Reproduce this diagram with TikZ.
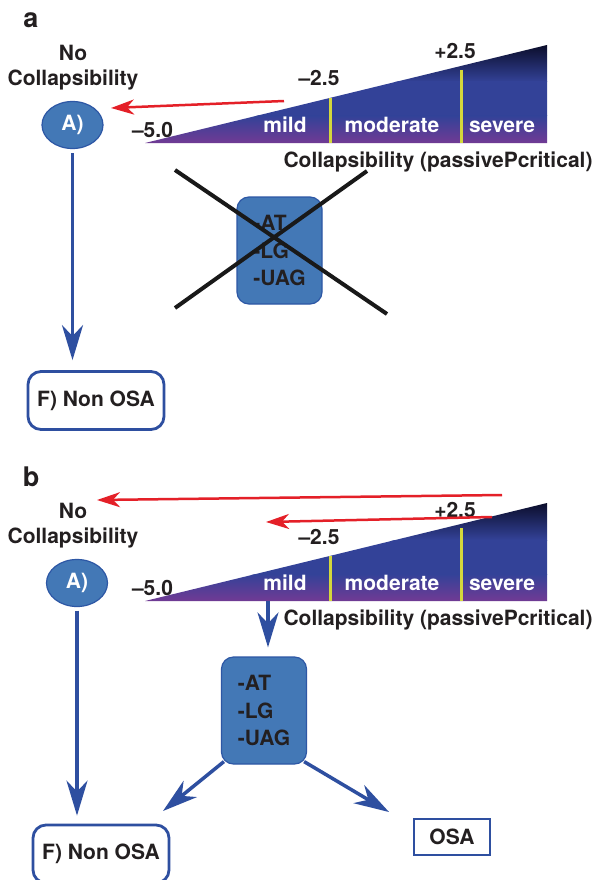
\documentclass[tikz,border=0pt]{standalone}
\usepackage{fontspec}
\setmainfont{TeX Gyre Heros}
\usetikzlibrary{shapes.geometric,arrows.meta,calc}
\definecolor{txt}{RGB}{35,31,32}
\definecolor{arrowblue}{RGB}{46,79,160}
\definecolor{boxfill}{RGB}{67,120,182}
\definecolor{boxborder}{RGB}{45,87,165}
\definecolor{redA}{RGB}{228,32,40}
\definecolor{triN}{RGB}{10,12,40}
\definecolor{triB}{RGB}{51,66,152}
\definecolor{triP}{RGB}{115,58,148}
\definecolor{yel}{RGB}{212,216,60}
\tikzset{
  lbl/.style={inner sep=0pt, font=\fontsize{21}{25}\selectfont\bfseries, text=txt},
  wlbl/.style={lbl, text=white, anchor=base},
  blbl/.style={lbl, anchor=base},
  panel/.style={inner sep=0pt, font=\fontsize{27}{30}\selectfont\bfseries, text=txt, anchor=base},
  ellnode/.style={lbl, ellipse, fill=boxfill, draw=boxborder, line width=1.2pt, minimum width=61pt, minimum height=47pt, text=white},
  fbox/.style={lbl, rectangle, rounded corners=13pt, draw=arrowblue, line width=2.8pt, fill=white, minimum width=136pt, minimum height=58pt},
  obox/.style={lbl, rectangle, draw=arrowblue, line width=2.8pt, fill=white, minimum width=76pt, minimum height=36pt},
  pbox/.style={inner sep=0pt, font=\fontsize{21}{27.5}\selectfont\bfseries, text=txt, rectangle, rounded corners=12pt, fill=boxfill, draw=boxborder, line width=1.2pt, minimum width=85pt, minimum height=107pt, align=left},
  bluearrow/.style={draw=arrowblue, line width=3.5pt, -{Stealth[length=35pt,width=21pt,inset=11pt]}},
  redarrow/.style={draw=redA, line width=2.5pt, -{Stealth[length=23pt,width=15pt,inset=7pt]}},
  yline/.style={draw=yel, line width=3pt},
  xline/.style={draw=black!90, line width=4pt}
}
\newcommand{\collscale}[2]{%
\begin{scope}[shift={(0,#2)}]
  \begin{scope}
    \clip (145,143) -- (547,45) -- (547,143) -- cycle;
    \shade[top color=triN, bottom color=triB] (140,44) rectangle (548,82);
    \fill[triB] (140,81.5) rectangle (548,116.5);
    \shade[top color=triB, bottom color=triP] (140,116) rectangle (548,144);
  \end{scope}
  \coordinate (#1yat) at (330,98);
  \coordinate (#1yab) at (330,143);
  \coordinate (#1ybt) at (461,70);
  \coordinate (#1ybb) at (461,143);
  \draw[yline] (#1yat) -- (#1yab);
  \draw[yline] (#1ybt) -- (#1ybb);
  \node[wlbl] (#1mild) at (285,132) {mild};
  \node[wlbl] (#1mod) at (392,132) {moderate};
  \node[wlbl] (#1sev) at (502,132) {severe};
  \node[blbl] (#1mfive) at (152.5,137) {\textendash5.0};
  \node[blbl] (#1mtwo) at (319,86) {\textendash2.5};
  \node[blbl] (#1ptwo) at (455,59) {+2.5};
  \node[blbl] (#1cap) at (438,167) {Collapsibility (passivePcritical)};
\end{scope}}
\begin{document}
\begin{tikzpicture}[x=1pt,y=-1pt]
\useasboundingbox (0,0) rectangle (598,880);
\fill[white] (0,0) rectangle (598,880);

% ---------------- panel a ----------------
\node[panel] (la) at (31,28) {a};
\node[lbl, align=center, anchor=north] (NCa) at (73,45) {No\\Collapsibility};
\collscale{a}{0}
\node[ellnode] (Aa) at (72.5,125) {A)};
\node[fbox] (Fa) at (96,400.5) {F) Non OSA};
\node[pbox] (Pa) at (279.5,250.5) {-AT\\-LG\\-UAG};
\coordinate (xa1) at (175,170);
\coordinate (xa2) at (387,314);
\coordinate (xa3) at (367,171);
\coordinate (xa4) at (175,308);
\draw[xline] (xa1) -- (xa2);
\draw[xline] (xa3) -- (xa4);
\coordinate (ra0) at (284,101);
\coordinate (ra1) at (111,108);
\draw[redarrow] (ra0) -- (ra1);
\draw[bluearrow, shorten <=4pt, shorten >=10pt] (Aa.south) -- (Aa.south |- Fa.north);

% ---------------- panel b ----------------
\node[panel] (lb) at (31,486) {b};
\node[lbl, align=center, anchor=north] (NCb) at (73,503) {No\\Collapsibility};
\collscale{b}{458}
\node[ellnode] (Ab) at (77,583) {A)};
\node[fbox] (Fb) at (101,854) {F) Non OSA};
\node[obox] (osa) at (452,837) {OSA};
\node[pbox] (Pb) at (264,710.5) {-AT\\-LG\\-UAG};
\coordinate (rb0) at (502,495);
\coordinate (rb1) at (97,500);
\coordinate (rc0) at (492,517);
\coordinate (rc1) at (266,522);
\draw[redarrow] (rb0) -- (rb1);
\draw[redarrow] (rc0) -- (rc1);
\draw[bluearrow, shorten <=3.5pt, shorten >=8pt] (Ab.south) -- (Ab.south |- Fb.north);
\coordinate (tb) at (268,601);
\draw[bluearrow, shorten >=9pt] (tb) -- (tb |- Pb.north);
\coordinate (tipL) at (163,811);
\coordinate (tipR) at (389,812);
\draw[bluearrow] ($(Pb.south west)+(3,-3)$) -- (tipL);
\draw[bluearrow] ($(Pb.south east)+(-3,-3)$) -- (tipR);
\end{tikzpicture}
\end{document}
